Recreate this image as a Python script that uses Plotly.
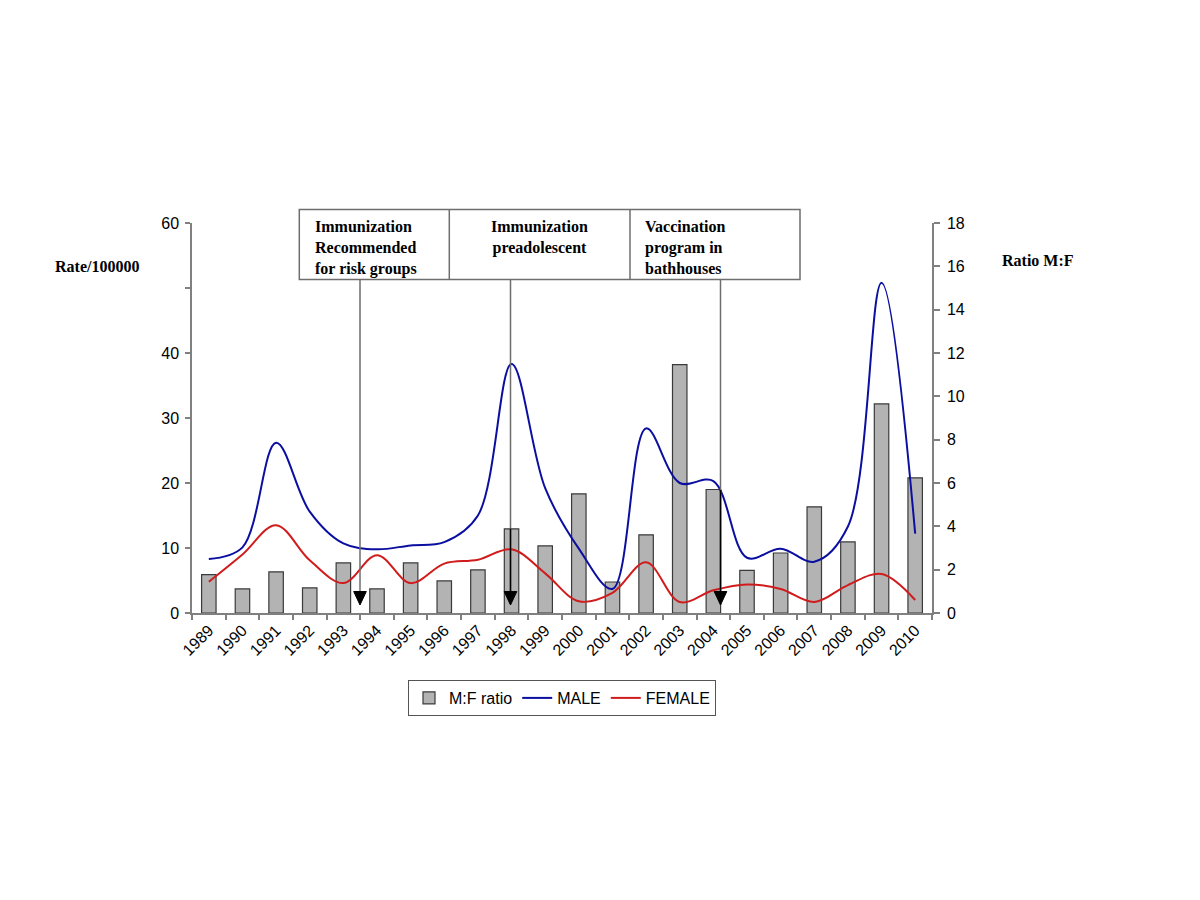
import plotly.graph_objects as go

years = [str(y) for y in range(1989, 2011)]
male = [8.3, 10.1, 26.2, 15.6, 10.7, 9.8, 10.4, 10.9, 15.0, 38.3, 19.2, 9.9,
        3.7, 28.4, 20.0, 20.3, 8.5, 9.9, 7.9, 13.3, 50.8, 12.2]
female = [4.8, 9.0, 13.5, 8.1, 4.6, 8.9, 4.6, 7.6, 8.2, 9.8, 6.1, 1.8,
          3.1, 7.8, 1.7, 3.5, 4.4, 3.7, 1.7, 4.3, 6.0, 2.0]
ratio = [1.77, 1.11, 1.90, 1.16, 2.31, 1.11, 2.31, 1.48, 1.99, 3.88, 3.10, 5.50,
         1.43, 3.61, 11.46, 5.70, 1.97, 2.77, 4.90, 3.28, 9.65, 6.24]

left_ticks = [0, 10, 20, 30, 40, 50, 60]
left_ticktext = ["0", "10", "20", "30", "40", "", "60"]
right_ticks = list(range(0, 19, 2))

events = [
    ("Immunization<br>Recommended<br>for risk groups", "left"),
    ("Immunization<br>preadolescent", "center"),
    ("Vaccination<br>program in<br>bathhouses", "left"),
]

OFF = 8  # default page body margin
W, H = 1200 - 2 * OFF, 900 - 2 * OFF
L, R, T, B = 192, 932, 223, 613   # plot area in screen pixels
PW, PH = R - L, B - T


def px(x):
    return (x - L) / PW


def py(y):
    return (B - y) / PH


AX = "#808080"
fig = go.Figure()
fig.add_trace(go.Bar(x=years, y=ratio, name="M:F ratio", yaxis="y",
                     marker=dict(color="#b3b3b3", line=dict(color="#3a3a3a", width=1.2)),
                     width=0.43))
fig.add_trace(go.Scatter(x=years, y=male, name="MALE", yaxis="y2", mode="lines",
                         line=dict(color="#0b0fa0", width=2, shape="spline", smoothing=1.0)))
fig.add_trace(go.Scatter(x=years, y=female, name="FEMALE", yaxis="y2", mode="lines",
                         line=dict(color="#d01c1c", width=2, shape="spline", smoothing=1.0)))

tick_font = dict(family="Liberation Sans, Arial", size=16, color="black")
serif_b = dict(family="Liberation Serif, Times New Roman", size=16, color="black")

fig.update_layout(
    width=W, height=H,
    margin=dict(l=L - OFF, r=W - (R - OFF), t=T - OFF, b=H - (B - OFF)),
    paper_bgcolor="white", plot_bgcolor="white",
    showlegend=True,
    legend=dict(orientation="h", x=px(562), y=py(680), xanchor="center", yanchor="top",
                bordercolor="#555555", borderwidth=1, bgcolor="white",
                font=dict(family="Liberation Sans, Arial", size=16, color="black"),
                traceorder="normal", itemwidth=30),
    xaxis=dict(type="category", range=[-0.5, 21.5], showline=True, linecolor=AX, linewidth=1.5,
               ticks="outside", ticklen=5, tickcolor=AX, tickwidth=1.5, tickson="boundaries",
               tickangle=-45, tickfont=tick_font, showgrid=False, zeroline=False),
    yaxis=dict(side="right", range=[0, 18], tickvals=right_ticks, showline=True, linecolor=AX,
               linewidth=1.5, ticks="outside", ticklen=6, tickcolor=AX, tickwidth=1.5,
               tickfont=tick_font, showgrid=False, zeroline=False, ticklabelstandoff=4),
    yaxis2=dict(side="left", overlaying="y", range=[0, 60], tickvals=left_ticks,
                ticktext=left_ticktext, showline=True, linecolor=AX, linewidth=1.5,
                ticks="outside", ticklen=5, tickcolor=AX, tickwidth=1.5,
                tickfont=tick_font, showgrid=False, zeroline=False, ticklabelstandoff=3),
)

shapes = []
bx0, bx1, by0, by1 = 299.3, 800, 279.5, 209.5
shapes.append(dict(type="rect", xref="paper", yref="paper", x0=px(bx0), x1=px(bx1),
                   y0=py(by0), y1=py(by1), line=dict(color="#6e6e6e", width=1.5)))
for dx in (449.3, 630):
    shapes.append(dict(type="line", xref="paper", yref="paper", x0=px(dx), x1=px(dx),
                       y0=py(by0), y1=py(by1), line=dict(color="#6e6e6e", width=1.5)))

arrows = [(360, None), (510.5, 528.7), (720.5, 490)]
for ax, black_from in arrows:
    shapes.append(dict(type="line", xref="paper", yref="paper", x0=px(ax), x1=px(ax),
                       y0=py(by0), y1=py(592), line=dict(color="#6e6e6e", width=1.5)))
    if black_from is not None:
        shapes.append(dict(type="line", xref="paper", yref="paper", x0=px(ax), x1=px(ax),
                           y0=py(black_from), y1=py(592), line=dict(color="black", width=1.5)))
    hw = 6.3
    path = "M {} {} L {} {} L {} {} Z".format(px(ax - hw), py(591.5), px(ax + hw), py(591.5),
                                              px(ax), py(605))
    shapes.append(dict(type="path", xref="paper", yref="paper", path=path,
                       fillcolor="black", line=dict(color="black", width=1)))
fig.update_layout(shapes=shapes)

ann = []
text_pos = [(313.3, "left"), (539.7, "center"), (642.7, "left")]
for (txt, al), (tx, _) in zip(events, text_pos):
    ann.append(dict(text="<b>" + txt + "</b>", xref="paper", yref="paper", x=px(tx), y=py(216),
                    xanchor=al, yanchor="top", align=al, showarrow=False, font=serif_b))
ann.append(dict(text="<b>Rate/100000</b>", xref="paper", yref="paper", x=px(52.7), y=py(266.5),
                xanchor="left", yanchor="middle", showarrow=False, font=serif_b))
ann.append(dict(text="<b>Ratio M:F</b>", xref="paper", yref="paper", x=px(1000), y=py(260.5),
                xanchor="left", yanchor="middle", showarrow=False, font=serif_b))
fig.update_layout(annotations=ann)

fig.write_html("out.html")
